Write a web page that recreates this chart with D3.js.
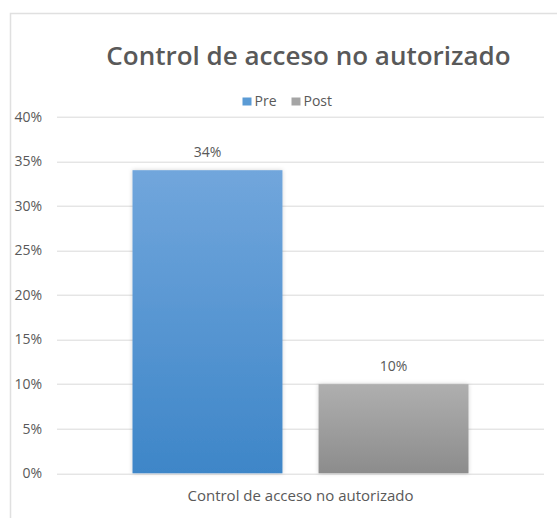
<!DOCTYPE html>
<html lang="es">
<head>
    <meta charset="UTF-8">
    <title>Control de acceso no autorizado</title>
    <script src="https://d3js.org/d3.v7.min.js"></script>
    <style>
        body { margin: 0; background: #fff; }
        .tick-label, .cat-label, .legend-label, .data-label {
            font-family: "Open Sans", sans-serif;
            fill: #595959;
        }
        .title {
            font-family: "Open Sans", sans-serif;
            font-weight: 600;
            fill: #595959;
        }
        .grid line { stroke: #d9d9d9; stroke-width: 1px; }
    </style>
</head>
<body>
    <div id="chart"></div>
    <script>
        const categories = ["Control de acceso no autorizado"];
        const seriesNames = ["Pre", "Post"];
        const preValues = [0.34];
        const postValues = [0.10];
        const yTicks = [0, 0.05, 0.10, 0.15, 0.20, 0.25, 0.30, 0.35, 0.40];

        const colors = {
            Pre: ["#71a6dc", "#3e86c8"],
            Post: ["#afafaf", "#8c8c8c"]
        };
        const legendColors = {Pre: "#5b9bd5", Post: "#a5a5a5"};

        const W = 557, H = 518;
        const margin = {top: 116.7, right: 13, bottom: 44.7, left: 57};
        const width = W - margin.left - margin.right,
              height = H - margin.top - margin.bottom;

        const svg = d3.select("#chart").append("svg")
            .attr("width", W)
            .attr("height", H);

        // frame of the chart area (runs off the right and bottom edge)
        svg.append("path")
            .attr("d", `M10.5,${H}V13.5H${W}`)
            .attr("fill", "none")
            .attr("stroke", "#e0e0e0")
            .attr("stroke-width", 1.5);

        const defs = svg.append("defs");
        seriesNames.forEach(s => {
            const g = defs.append("linearGradient")
                .attr("id", "grad-" + s)
                .attr("x1", 0).attr("y1", 0).attr("x2", 0).attr("y2", 1);
            g.append("stop").attr("offset", "0%").attr("stop-color", colors[s][0]);
            g.append("stop").attr("offset", "100%").attr("stop-color", colors[s][1]);
        });
        const shadow = defs.append("filter").attr("id", "shadow")
            .attr("x", "-10%").attr("y", "-10%").attr("width", "120%").attr("height", "120%");
        shadow.append("feDropShadow")
            .attr("dx", 0).attr("dy", 0).attr("stdDeviation", 2)
            .attr("flood-color", "#000").attr("flood-opacity", 0.18);

        const chart = svg.append("g")
            .attr("transform", `translate(${margin.left},${margin.top})`);

        const y = d3.scaleLinear().domain([0, 0.40]).range([height, 0]);

        const x0 = d3.scaleBand().domain(categories).range([0, width])
            .paddingInner(0).paddingOuter(0.2247);
        const x1 = d3.scaleBand().domain(seriesNames).range([0, x0.bandwidth()])
            .paddingInner(0.194).paddingOuter(0);

        // gridlines
        chart.append("g").attr("class", "grid")
            .selectAll("line").data(yTicks).join("line")
            .attr("x1", 0).attr("x2", width)
            .attr("y1", d => Math.round(y(d)) + 0.5)
            .attr("y2", d => Math.round(y(d)) + 0.5);

        // y tick labels
        const fmt = d3.format(".0%");
        chart.append("g")
            .selectAll("text").data(yTicks).join("text")
            .attr("class", "tick-label")
            .attr("x", -15)
            .attr("y", d => y(d))
            .attr("dy", "0.35em")
            .attr("text-anchor", "end")
            .style("font-size", "14px")
            .text(d => fmt(d));

        const rows = categories.map((c, i) => ({
            category: c,
            values: [
                {series: "Pre", value: preValues[i]},
                {series: "Post", value: postValues[i]}
            ]
        }));

        const groups = chart.selectAll(".cat").data(rows).join("g")
            .attr("class", "cat")
            .attr("transform", d => `translate(${x0(d.category)},0)`);

        groups.selectAll("rect").data(d => d.values).join("rect")
            .attr("x", d => x1(d.series))
            .attr("y", d => y(d.value))
            .attr("width", x1.bandwidth())
            .attr("height", d => height - y(d.value))
            .attr("fill", d => `url(#grad-${d.series})`)
            .attr("filter", "url(#shadow)");

        groups.selectAll(".data-label").data(d => d.values).join("text")
            .attr("class", "data-label")
            .attr("x", d => x1(d.series) + x1.bandwidth() / 2)
            .attr("y", d => y(d.value) - 18)
            .attr("dy", "0.35em")
            .attr("text-anchor", "middle")
            .style("font-size", "14px")
            .text(d => fmt(d.value));

        // category label
        chart.selectAll(".cat-label").data(categories).join("text")
            .attr("class", "cat-label")
            .attr("x", d => x0(d) + x0.bandwidth() / 2)
            .attr("y", height + 22)
            .attr("dy", "0.35em")
            .attr("text-anchor", "middle")
            .style("font-size", "15px")
            .text(d => d);

        // title
        svg.append("text")
            .attr("class", "title")
            .attr("x", 308.5)
            .attr("y", 56)
            .attr("dy", "0.35em")
            .attr("text-anchor", "middle")
            .style("font-size", "26px")
            .text(categories[0]);

        // legend
        const legendX = [242.5, 291.5];
        const legend = svg.append("g").selectAll("g").data(seriesNames).join("g")
            .attr("transform", (d, i) => `translate(${legendX[i]},97.5)`);
        legend.append("rect")
            .attr("width", 9).attr("height", 8)
            .attr("fill", d => legendColors[d]);
        legend.append("text")
            .attr("class", "legend-label")
            .attr("x", 12).attr("y", 4).attr("dy", "0.35em")
            .style("font-size", "14px")
            .text(d => d);
    </script>
</body>
</html>
